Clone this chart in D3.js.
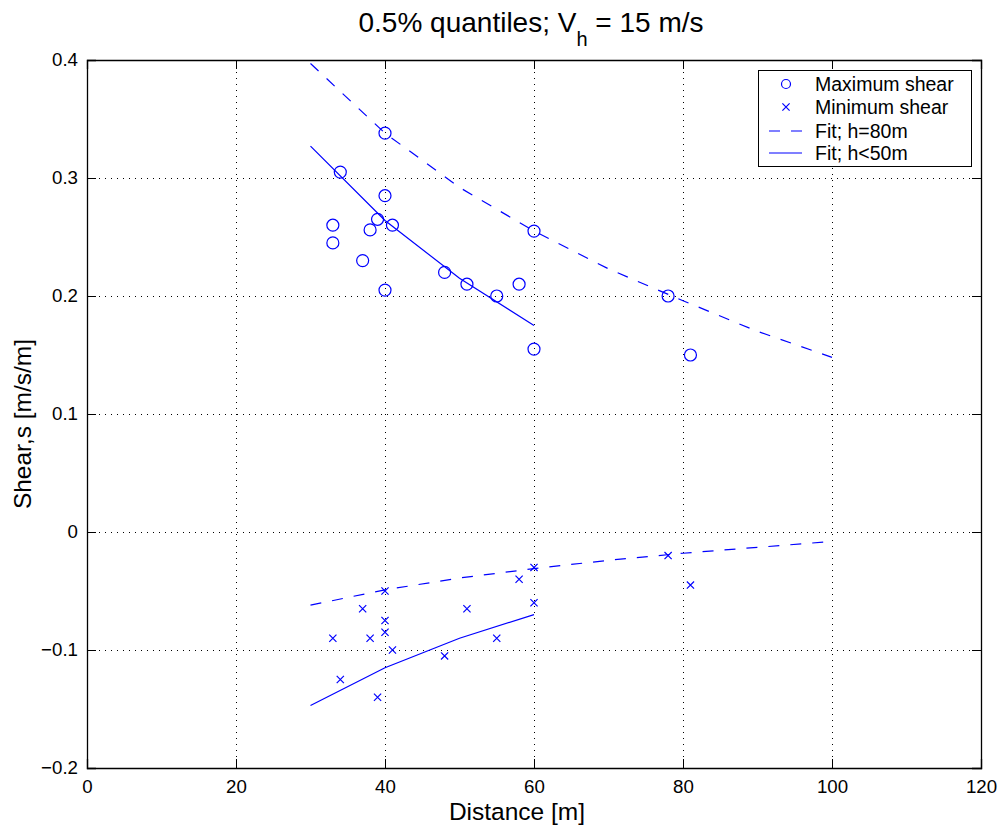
<!DOCTYPE html>
<html><head><meta charset="utf-8">
<script src="https://cdn.jsdelivr.net/npm/d3@7"></script>
<style>body{margin:0;background:#fff}svg{display:block}text{font-family:"Liberation Sans",Arial,Helvetica,sans-serif}</style>
</head><body>
<svg id="c" width="1002" height="832"></svg>
<script>
// Data
const maxX = [33,33,34,37,38,39,40,40,40,41,48,51,55,58,60,60,78,81];
const maxY = [0.26,0.245,0.305,0.23,0.256,0.265,0.338,0.285,0.205,0.26,0.22,0.21,0.2,0.21,0.255,0.155,0.2,0.15];
const minX = [33,34,37,38,39,40,40,40,41,48,51,55,58,60,60,78,81];
const minY = [-0.09,-0.125,-0.065,-0.09,-0.14,-0.05,-0.075,-0.085,-0.1,-0.105,-0.065,-0.09,-0.04,-0.03,-0.06,-0.02,-0.045];
const fit80X = [30,40,50,60,70,80,90,100];
const fit80MaxY = [0.397,0.338,0.292,0.255,0.223,0.196,0.170,0.148];
const fit80MinY = [-0.062,-0.049,-0.039,-0.031,-0.024,-0.018,-0.013,-0.008];
const fit50X = [30,40,50,60];
const fit50MaxY = [0.327,0.264,0.215,0.175];
const fit50MinY = [-0.147,-0.115,-0.090,-0.070];
const xTicks = [0,20,40,60,80,100,120];
const yTicks = [-0.2,-0.1,0,0.1,0.2,0.3,0.4];
const legendLabels = ["Maximum shear","Minimum shear","Fit; h=80m","Fit; h<50m"];

const svg = d3.select("#c");
const L=87,R=981,T=60,B=768;
const x = d3.scaleLinear().domain([0,120]).range([L,R]);
const y = d3.scaleLinear().domain([-0.2,0.4]).range([B,T]);
const blue = "#0000ff";
const fmt = v => (v<0 ? "\u2212" : "") + (Math.abs(v) < 1e-9 ? "0" : String(+Math.abs(v).toFixed(1)));

// grid
const g = svg.append("g");
g.selectAll("line.gx").data(xTicks.filter(v=>v>0&&v<120)).join("line")
  .attr("x1",d=>x(d)+0.5).attr("x2",d=>x(d)+0.5).attr("y1",T).attr("y2",B)
  .attr("stroke","#000").attr("stroke-width",1).attr("stroke-dasharray","1,5");
g.selectAll("line.gy").data(yTicks.filter(v=>v>-0.2&&v<0.4)).join("line")
  .attr("y1",d=>Math.round(y(d))+0.5).attr("y2",d=>Math.round(y(d))+0.5).attr("x1",L).attr("x2",R)
  .attr("stroke","#000").attr("stroke-width",1).attr("stroke-dasharray","1,5");

// axes (inward ticks on all four sides)
const tl = 9;
const ax = svg.append("g");
ax.append("g").attr("transform",`translate(0,${B})`).call(d3.axisBottom(x).tickValues(xTicks).tickSize(-tl).tickPadding(12).tickFormat(d3.format("d")));
ax.append("g").attr("transform",`translate(0,${T})`).call(d3.axisTop(x).tickValues(xTicks).tickSize(-tl).tickFormat(""));
ax.append("g").attr("transform",`translate(${L},0)`).call(d3.axisLeft(y).tickValues(yTicks).tickSize(-tl).tickPadding(9).tickFormat(fmt));
ax.append("g").attr("transform",`translate(${R},0)`).call(d3.axisRight(y).tickValues(yTicks).tickSize(-tl).tickFormat(""));
ax.selectAll(".domain").attr("stroke","#000").attr("stroke-width",1.3);
ax.selectAll(".tick line").attr("stroke","#000");
ax.selectAll(".tick text").attr("font-size",18.7).attr("fill","#000").attr("font-family","Liberation Sans, Arial, sans-serif");

// lines
const line = d3.line().x(d=>x(d[0])).y(d=>y(d[1]));
const draw = (xs, ys, dash) => svg.append("path").datum(xs.map((v,i)=>[v,ys[i]]))
  .attr("d",line).attr("fill","none").attr("stroke",blue).attr("stroke-width",1.2)
  .attr("stroke-dasharray",dash);
draw(fit80X, fit80MaxY, "11,11");
draw(fit80X, fit80MinY, "11,11");
draw(fit50X, fit50MaxY, null);
draw(fit50X, fit50MinY, null);

// markers
svg.selectAll("circle.mx").data(maxX.map((v,i)=>[v,maxY[i]])).join("circle")
  .attr("cx",d=>x(d[0])).attr("cy",d=>y(d[1])).attr("r",6)
  .attr("fill","none").attr("stroke",blue).attr("stroke-width",1.2);
const cs = 3.6;
const cross = (sel, px, py) => sel.append("path")
  .attr("d",`M${px-cs},${py-cs}L${px+cs},${py+cs}M${px-cs},${py+cs}L${px+cs},${py-cs}`)
  .attr("stroke",blue).attr("stroke-width",1.2).attr("fill","none");
minX.forEach((v,i)=>cross(svg, x(v), y(minY[i])));

// legend
const lg = svg.append("g");
lg.append("rect").attr("x",758.5).attr("y",70.5).attr("width",213).attr("height",96)
  .attr("fill","#fff").attr("stroke","#000").attr("stroke-width",1);
const ly = [84,107,131,153];
lg.append("circle").attr("cx",786).attr("cy",ly[0]).attr("r",4.5).attr("fill","none").attr("stroke",blue).attr("stroke-width",1.2);
cross(lg, 786, ly[1]);
lg.append("line").attr("x1",769).attr("x2",802).attr("y1",ly[2]).attr("y2",ly[2]).attr("stroke",blue).attr("stroke-width",1.2).attr("stroke-dasharray","11,11");
lg.append("line").attr("x1",769).attr("x2",802).attr("y1",ly[3]).attr("y2",ly[3]).attr("stroke",blue).attr("stroke-width",1.2);
lg.selectAll("text").data(legendLabels).join("text")
  .attr("x",815).attr("y",(d,i)=>ly[i]).attr("dy","0.35em").attr("font-size",19.5).text(d=>d);

// title and labels
const title = svg.append("text").attr("x",531).attr("y",32).attr("text-anchor","middle").attr("font-size",28);
title.append("tspan").text("0.5% quantiles; V");
title.append("tspan").attr("dy",14).attr("font-size",20).text("h");
title.append("tspan").attr("dy",-14).text(" = 15 m/s");
svg.append("text").attr("x",517).attr("y",820).attr("text-anchor","middle").attr("font-size",24.5).text("Distance [m]");
svg.append("text").attr("transform","translate(31,424) rotate(-90)").attr("text-anchor","middle").attr("font-size",24.5).text("Shear,s [m/s/m]");
</script>
</body></html>
